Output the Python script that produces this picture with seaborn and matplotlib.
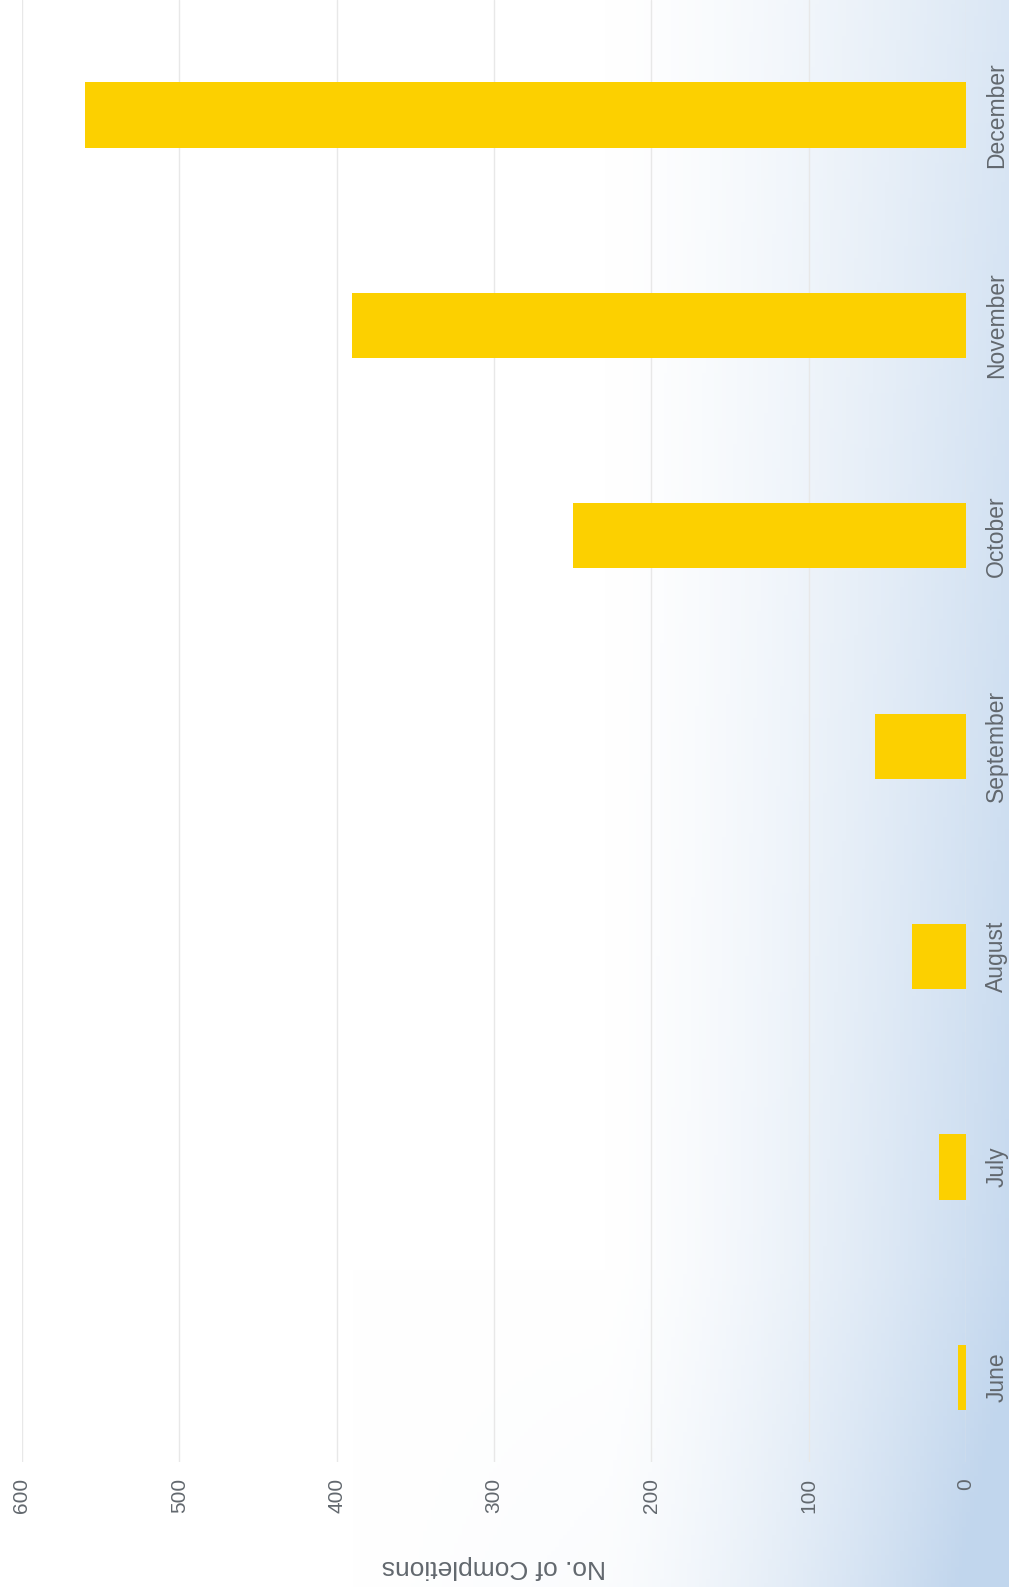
import numpy as np
import pandas as pd
import matplotlib
matplotlib.use("Agg")
import matplotlib.pyplot as plt
import seaborn as sns

# -----------------------------
# Data
# -----------------------------
months = ["December", "November", "October", "September", "August", "July", "June"]
completions = [560, 390, 250, 58, 34, 17, 5]
x_ticks = [0, 100, 200, 300, 400, 500, 600]

df = pd.DataFrame({"Month": months, "Completions": completions})

# -----------------------------
# Figure
# -----------------------------
sns.set_style("white")
plt.rcParams["font.family"] = ["Liberation Sans", "DejaVu Sans"]

fig = plt.figure(figsize=(10.09, 15.87), dpi=100)

# scanned-page backdrop: white fading to pale blue on the right
bg = fig.add_axes([0, 0, 1, 1], zorder=0)
h, w = 400, 260
xx = np.linspace(0, 1, w)[None, :]
yy = np.linspace(0, 1, h)[:, None]
weight = np.clip((xx - 0.6) / 0.4, 0, 1) ** 1.4 * (0.6 + 0.4 * yy)
weight = weight + 0.18 * np.clip((yy - 0.8) / 0.2, 0, 1) * np.clip((xx - 0.35) / 0.65, 0, 1)
weight = np.clip(weight, 0, 1)
white = np.array([1.0, 1.0, 1.0])
blue = np.array([0.76, 0.84, 0.93])
img = white[None, None, :] * (1 - weight[..., None]) + blue[None, None, :] * weight[..., None]
bg.imshow(img, aspect="auto", extent=[0, 1, 0, 1], origin="upper")
bg.axis("off")

ax = fig.add_axes([0.0218, 0.079, 0.9355, 0.921], zorder=1)
ax.set_facecolor("none")

sns.barplot(data=df, y="Month", x="Completions", orient="h", color="#FCD000",
            width=0.31, saturation=1, linewidth=0, ax=ax, zorder=3)

ax.set_xlim(600, 0)
ax.set_ylim(6.40, -0.546)
ax.set_xticks(x_ticks)
ax.set_xticklabels([str(t) for t in x_ticks], rotation=90, fontsize=15, color="#62686e")
ax.tick_params(axis="x", length=0, pad=12)

ax.yaxis.tick_right()
ax.set_yticks(range(len(months)))
ax.set_yticklabels(months, rotation=90, va="center", fontsize=16.5, color="#62686e")
ax.tick_params(axis="y", length=0, pad=14)
ax.set_ylabel("")

ax.grid(axis="x", color="#e8e8e8", linewidth=1, zorder=0)
ax.set_axisbelow(True)
for s in ax.spines.values():
    s.set_visible(False)

ax.set_xlabel("No. of Completions", rotation=180, fontsize=19, color="#62686e", labelpad=30)

fig.savefig("out.png", dpi=100)
